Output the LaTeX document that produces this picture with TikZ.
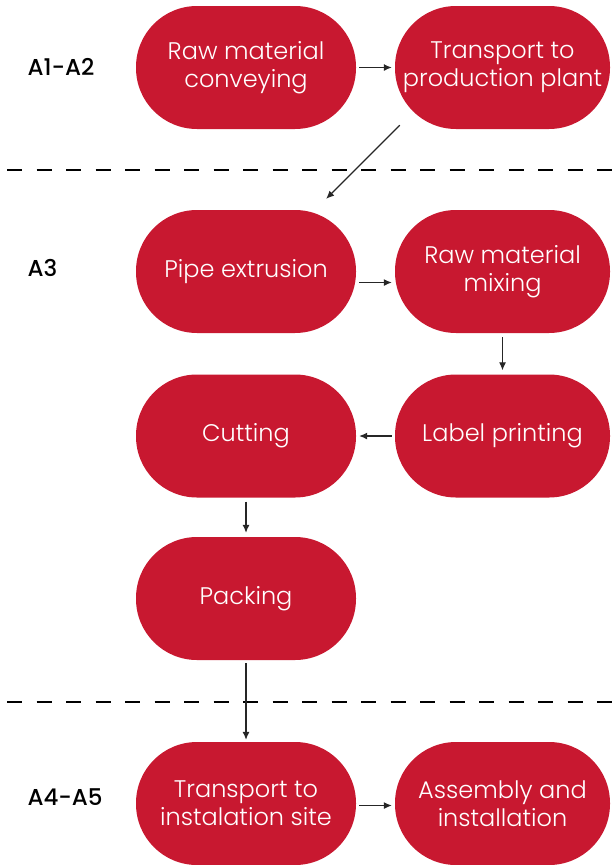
\documentclass[tikz,border=0pt]{standalone}
\usepackage{fontspec}
\setmainfont{Poppins}[UprightFont=* Light, BoldFont=* Medium]
\usetikzlibrary{arrows.meta}
\definecolor{stepred}{RGB}{200,24,48}

\begin{document}
\begin{tikzpicture}[x=1pt, y=1pt,
  stage/.style={fill=stepred, text=white, rounded corners=61pt, minimum height=123pt,
    align=center, inner sep=0pt, font=\fontsize{24}{28}\selectfont},
  lhs/.style={stage, minimum width=220pt},
  rhs/.style={stage, minimum width=215pt},
  phase/.style={anchor=west, font=\bfseries\fontsize{23}{28}\selectfont},
  arr/.style={-{Latex[length=8pt,width=7pt]}, line width=1.1pt, draw=black!85},
  sep/.style={line width=1.6pt, dash pattern=on 15pt off 14.5pt, dash phase=22.5pt}]
\useasboundingbox (0,0) rectangle (614,-865);

\node[phase] (a12) at (24,-67) {A1-A2};
\node[phase] (a3) at (24,-268) {A3};
\node[phase] (a45) at (24,-797) {A4-A5};

\node[lhs] (convey) at (246,-67.5) {Raw material\\conveying};
\node[rhs] (plant) at (502.5,-67.5) {Transport to\\production plant};

\node[lhs] (pipe) at (246,-271.5) {Pipe extrusion};
\node[rhs] (mixing) at (502.5,-271.5) {Raw material\\mixing};
\node[rhs] (printing) at (502.5,-436) {Label printing};
\node[lhs] (cutting) at (246,-436) {Cutting};
\node[lhs] (packing) at (246,-598.5) {Packing};

\node[lhs] (site) at (246,-803.5) {Transport to\\instalation site};
\node[rhs] (assembly) at (502.5,-803.5) {Assembly and\\installation};

% phase borders
\draw[sep] (0,-170) -- (614,-170);
\draw[sep] (0,-702) -- (614,-702);

\draw[arr] ([xshift=3pt]convey.east) -- ([xshift=-3pt]plant.west);
\draw[arr] ([shift={(5pt,4pt)}]plant.south west) -- ([shift={(-30pt,11pt)}]pipe.north east);
\draw[arr] ([shift={(3pt,-11pt)}]pipe.east) -- ([shift={(-3pt,-11pt)}]mixing.west);
\draw[arr] ([yshift=-4pt]mixing.south) -- ([yshift=4pt]printing.north);
\draw[arr] ([xshift=-3pt]printing.west) -- ([xshift=3pt]cutting.east);
\draw[arr] ([yshift=-4pt]cutting.south) -- ([yshift=4pt]packing.north);
\draw[arr] ([yshift=-3pt]packing.south) -- ([yshift=2pt]site.north);
\draw[arr] ([shift={(3pt,-2pt)}]site.east) -- ([shift={(-3pt,-2pt)}]assembly.west);
\end{tikzpicture}
\end{document}
